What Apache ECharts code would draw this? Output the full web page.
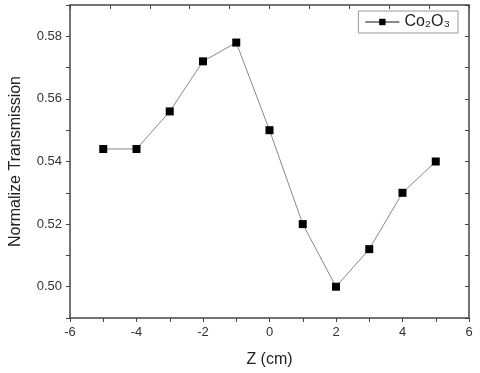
<!DOCTYPE html>
<html>
<head>
<meta charset="utf-8">
<script src="https://cdn.jsdelivr.net/npm/echarts@6/dist/echarts.min.js"></script>
<style>
  html, body { margin: 0; padding: 0; background: #fff; }
  #chart { width: 480px; height: 373px; }
</style>
</head>
<body>
<div id="chart"></div>
<script>
const zValues = [-5, -4, -3, -2, -1, 0, 1, 2, 3, 4, 5];
const transmission = [0.544, 0.544, 0.556, 0.572, 0.578, 0.550, 0.520, 0.500, 0.512, 0.530, 0.540];
const seriesName = 'Co\u2082O\u2083';

const chart = echarts.init(document.getElementById('chart'));
const font = 'Liberation Sans, Arial, sans-serif';
const axisColor = '#444';

const option = {
    animation: false,
    textStyle: { fontFamily: font },
    grid: { left: 67, right: 11, top: 5, bottom: 51 },
    legend: {
        data: [seriesName],
        right: 22,
        top: 11,
        itemWidth: 34,
        itemHeight: 8,
        itemGap: 4,
        padding: [3, 8, 3, 6],
        borderColor: '#999',
        borderWidth: 1,
        textStyle: { fontSize: 16, color: '#222', fontFamily: font },
    },
    xAxis: [
        {
            type: 'value',
            min: -6,
            max: 6,
            interval: 1,
            name: 'Z (cm)',
            nameLocation: 'middle',
            nameGap: 34,
            nameTextStyle: { fontSize: 16, color: '#222' },
            axisLine: { onZero: false, lineStyle: { color: axisColor, width: 1.5 } },
            axisTick: { inside: false, length: 4, lineStyle: { color: axisColor } },
            axisLabel: {
                color: '#333',
                fontSize: 13,
                margin: 8,
                formatter: v => (Math.round(v) % 2 === 0 ? String(Math.round(v)) : ''),
            },
            splitLine: { show: false },
        },
        {
            type: 'value',
            position: 'top',
            min: 0,
            max: 10,
            interval: 1,
            axisLine: { onZero: false, lineStyle: { color: axisColor, width: 1.5 } },
            axisTick: { inside: true, length: 4, lineStyle: { color: axisColor } },
            axisLabel: { show: false },
            splitLine: { show: false },
        },
    ],
    yAxis: [
        {
            type: 'value',
            min: 0.49,
            max: 0.59,
            interval: 0.01,
            name: 'Normalize Transmission',
            nameLocation: 'middle',
            nameGap: 46,
            nameTextStyle: { fontSize: 16, color: '#222' },
            axisLine: { show: true, onZero: false, lineStyle: { color: axisColor, width: 1.5 } },
            axisTick: { show: true, inside: false, length: 4, lineStyle: { color: axisColor } },
            axisLabel: {
                color: '#333',
                fontSize: 13,
                margin: 8,
                formatter: v => {
                    const h = Math.round(v * 100);
                    return h % 2 === 0 ? (h / 100).toFixed(2) : '';
                },
            },
            splitLine: { show: false },
        },
        {
            type: 'value',
            position: 'right',
            min: 0.49,
            max: 0.59,
            interval: 0.01,
            axisLine: { show: true, onZero: false, lineStyle: { color: axisColor, width: 1.5 } },
            axisTick: { show: true, inside: true, length: 4, lineStyle: { color: axisColor } },
            axisLabel: { show: false },
            splitLine: { show: false },
        },
    ],
    series: [
        {
            name: seriesName,
            type: 'line',
            xAxisIndex: 0,
            yAxisIndex: 0,
            data: zValues.map((z, i) => [z, transmission[i]]),
            symbol: 'rect',
            symbolSize: 8,
            itemStyle: { color: '#000' },
            lineStyle: { color: '#888', width: 1 },
        },
    ],
};

chart.setOption(option);
</script>
</body>
</html>
